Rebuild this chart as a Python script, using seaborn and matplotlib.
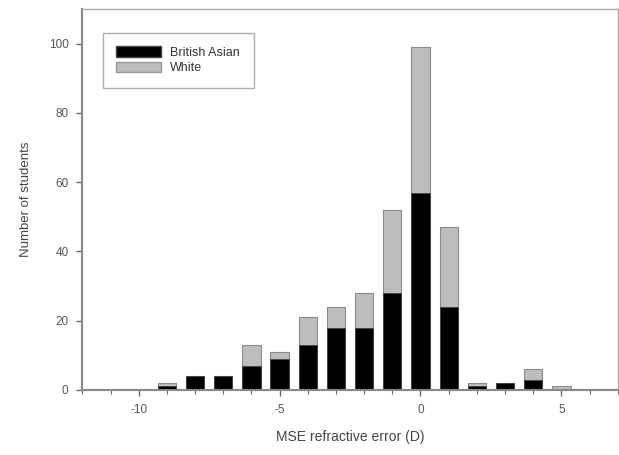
import numpy as np
import pandas as pd
import matplotlib
matplotlib.use("Agg")
import matplotlib.pyplot as plt
import seaborn as sns
from matplotlib.patches import Patch
from matplotlib.ticker import MultipleLocator

# MSE bins (D) and counts per group
bins = [-9, -8, -7, -6, -5, -4, -3, -2, -1, 0, 1, 2, 3, 4, 5]
british_asian = [1, 4, 4, 7, 9, 13, 18, 18, 28, 57, 24, 1, 2, 3, 0]
white = [1, 0, 0, 6, 2, 8, 6, 10, 24, 42, 23, 1, 0, 3, 1]

df = pd.DataFrame({"mse": bins, "asian": british_asian, "white": white})
df["total"] = df["asian"] + df["white"]

sns.set_style("white")
plt.rcParams['font.family'] = ['Liberation Sans', 'DejaVu Sans']
plt.rcParams['axes.unicode_minus'] = False

fig = plt.figure(figsize=(6.19, 4.55), dpi=100)
ax = fig.add_axes([0.133, 0.143, 0.865, 0.837])

# stacked: draw total in grey, then the British Asian part in black
sns.barplot(data=df, x="mse", y="total", color="#bdbdbd", native_scale=True,
            width=0.65, edgecolor="#8a8a8a", linewidth=0.8, saturation=1, ax=ax)
sns.barplot(data=df, x="mse", y="asian", color="black", native_scale=True,
            width=0.65, edgecolor="#444444", linewidth=0.6, saturation=1, ax=ax)

ax.set_xlim(-12, 7)
ax.set_ylim(0, 110)
ax.set_xticks([-10, -5, 0, 5])
ax.xaxis.set_minor_locator(MultipleLocator(1))
ax.set_yticks([0, 20, 40, 60, 80, 100])

for side in ["left", "bottom"]:
    ax.spines[side].set_color("#888888")
    ax.spines[side].set_linewidth(1.5)
for side in ["top", "right"]:
    ax.spines[side].set_color("#aaaaaa")
    ax.spines[side].set_linewidth(1.0)

ax.tick_params(axis="both", which="major", direction="out", length=4, width=1,
               color="#666666", labelsize=8.5, labelcolor="#555555", pad=6)
ax.tick_params(axis="x", which="minor", direction="out", length=3, width=0.8,
               color="#666666", bottom=True)
ax.tick_params(axis="both", which="major", bottom=True, left=True)

ax.set_xlabel("MSE refractive error (D)", fontsize=10, color="#444444", labelpad=10)
ax.set_ylabel("Number of students", fontsize=9.5, color="#444444", labelpad=12)

handles = [Patch(facecolor="black", edgecolor="#444444", label="British Asian"),
           Patch(facecolor="#bdbdbd", edgecolor="#999999", label="White")]
leg = ax.legend(handles=handles, loc="upper left", bbox_to_anchor=(0.038, 0.938),
                fontsize=9, frameon=True, fancybox=False, borderpad=1.1,
                handlelength=3.6, handleheight=0.95, labelspacing=0.2,
                handletextpad=0.7, borderaxespad=0, labelcolor="#333333")
leg.get_frame().set_edgecolor("#999999")
leg.get_frame().set_linewidth(1.0)

fig.savefig("out.png", dpi=100)
